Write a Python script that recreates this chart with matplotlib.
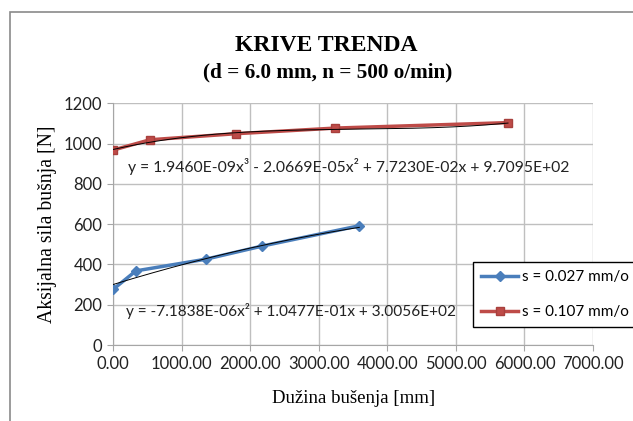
import numpy as np
import matplotlib
matplotlib.use('Agg')
import matplotlib.pyplot as plt
from matplotlib.patches import Rectangle
from matplotlib.ticker import MultipleLocator, FuncFormatter

# s = 0.027 mm/o
x_slow = [0, 330, 1350, 2170, 3590]
y_slow = [277, 368, 426, 491, 592]
# s = 0.107 mm/o
x_fast = [0, 535, 1790, 3240, 5760]
y_fast = [968, 1019, 1049, 1077, 1104]

# trendline coefficients (highest power first) as printed on the chart
coef_slow = [-7.1838E-06, 1.0477E-01, 3.0056E+02]
coef_fast = [1.9460E-09, -2.0669E-05, 7.7230E-02, 9.7095E+02]

eq_slow = "y = -7.1838E-06x² + 1.0477E-01x + 3.0056E+02"
eq_fast = "y = 1.9460E-09x³ - 2.0669E-05x² + 7.7230E-02x + 9.7095E+02"

labels = ["s = 0.027 mm/o", "s = 0.107 mm/o"]
blue = '#4A7EBB'
red = '#BE4B48'

fig = plt.figure(figsize=(6.33, 4.21), dpi=100)
fig.patches.append(Rectangle((10 / 633, -0.1), 1.2, (421 - 12) / 421 + 0.1,
                             transform=fig.transFigure, fill=False,
                             edgecolor='#8a8a8a', linewidth=1.2))

ax = fig.add_axes([113.3 / 633, 76 / 421, 479.7 / 633, 241.7 / 421])
ax.set_xlim(0, 7000)
ax.set_ylim(0, 1200)
ax.xaxis.set_major_locator(MultipleLocator(1000))
ax.yaxis.set_major_locator(MultipleLocator(200))
ax.grid(True, color='#bfbfbf', linewidth=1.0)
ax.set_axisbelow(True)
for side in ['top', 'right']:
    ax.spines[side].set_visible(False)
for side in ['left', 'bottom']:
    ax.spines[side].set_color('#a6a6a6')
ax.tick_params(axis='both', direction='out', length=4, color='#a6a6a6',
               labelsize=12, pad=4, labelcolor='#222222')
for lab in ax.get_xticklabels() + ax.get_yticklabels():
    lab.set_family('Lato')
ax.xaxis.set_major_formatter(FuncFormatter(lambda v, p: f'{v:.2f}'))
ax.yaxis.set_major_formatter(FuncFormatter(lambda v, p: f'{v:.0f}'))

ax.plot(x_slow, y_slow, color=blue, lw=2.5, marker='D', ms=5.5,
        label=labels[0], zorder=3)
ax.plot(x_fast, y_fast, color=red, lw=2.5, marker='s', ms=6,
        mec='#a8403d', label=labels[1], zorder=3)

xs = np.linspace(0, x_slow[-1], 200)
ax.plot(xs, np.polyval(coef_slow, xs), color='black', lw=0.7, zorder=4)
xf = np.linspace(0, x_fast[-1], 200)
ax.plot(xf, np.polyval(coef_fast, xf), color='black', lw=0.7, zorder=4)

ax.text(214, 887, eq_fast, family='Lato', fontsize=11.3, va='center', color='#222222')
ax.text(185, 168, eq_slow, family='Lato', fontsize=11.1, va='center', color='#222222')

ax.set_xlabel('Dužina bušenja [mm]', family='Liberation Serif', fontsize=13.5, labelpad=13)
ax.set_ylabel('Aksijalna sila bušnja [N]', family='Liberation Serif', fontsize=14.2, labelpad=5)

fig.text(0.515, 0.893, 'KRIVE TRENDA', family='Liberation Serif',
         fontweight='bold', fontsize=17, ha='center', va='center')
fig.text(0.517, 0.829, '(d = 6.0 mm, n = 500 o/min)', family='Liberation Serif',
         fontweight='bold', fontsize=15.3, ha='center', va='center')

leg = ax.legend(loc='upper left', bbox_to_anchor=(473 / 633, 159 / 421),
                bbox_transform=fig.transFigure, frameon=True, fancybox=False,
                edgecolor='black', framealpha=1, prop={'family': 'Lato', 'size': 11},
                handlelength=2.4, borderpad=0.55, labelspacing=1.35, handletextpad=0.25,
                borderaxespad=0)
leg.get_frame().set_linewidth(1.0)

fig.savefig('out.png', dpi=100)
